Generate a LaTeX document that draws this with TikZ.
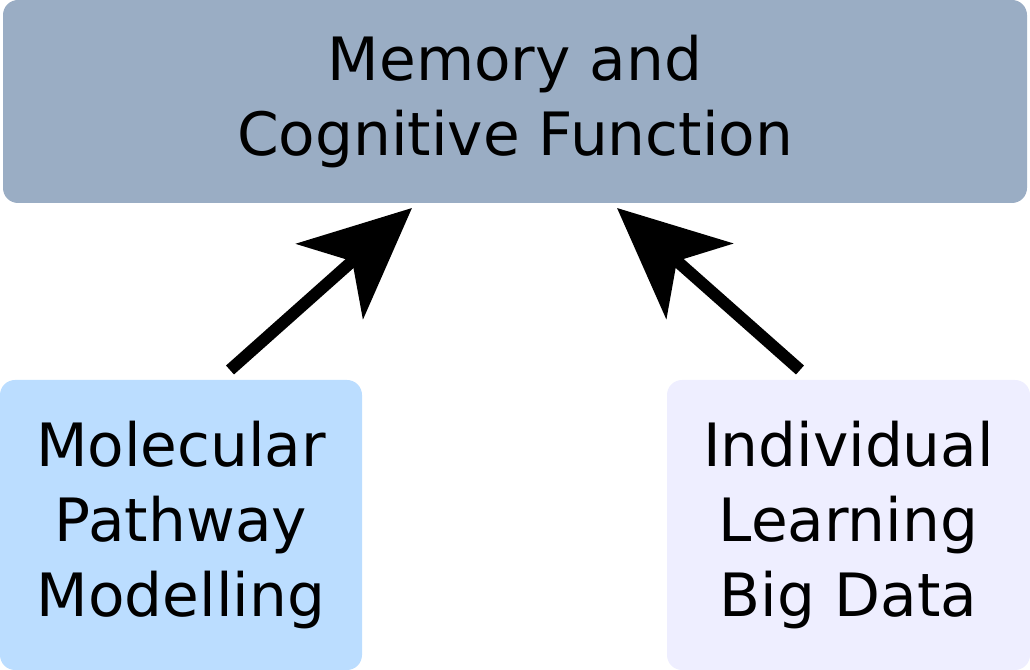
\documentclass[tikz,border=0pt]{standalone}
\usepackage{fontspec}
\setmainfont{DejaVu Sans}
\usetikzlibrary{arrows.meta}
\definecolor{topcol}{HTML}{9AADC4}
\definecolor{molcol}{HTML}{BBDDFF}
\definecolor{indcol}{HTML}{EEEEFF}
\tikzset{
  box/.style={rounded corners=0.3cm, inner sep=0pt, align=center,
    font=\fontsize{34}{42.7}\selectfont},
  bigarrow/.style={line width=0.24cm, -{Stealth[length=2.2cm, width=2.0cm, inset=0.6cm]}}
}
\begin{document}
\begin{tikzpicture}
  \useasboundingbox (0,0) rectangle (20.6,13.4);
  \node[box, fill=topcol, minimum width=20.48cm, minimum height=4.06cm] (mem) at (10.3,11.37) {Memory and\\Cognitive Function};
  \node[box, fill=molcol, minimum width=7.24cm, minimum height=5.8cm] (mol) at (3.62,2.9) {Molecular\\Pathway\\Modelling};
  \node[box, fill=indcol, minimum width=7.26cm, minimum height=5.8cm] (ind) at (16.97,2.9) {Individual\\Learning\\Big Data};
  % arrow ends
  \coordinate (molstart) at (4.6,6.0);
  \coordinate (molend) at (8.24,9.24);
  \coordinate (indstart) at (16.0,6.0);
  \coordinate (indend) at (12.34,9.24);
  \draw[bigarrow] (molstart) -- (molend);
  \draw[bigarrow] (indstart) -- (indend);
\end{tikzpicture}
\end{document}
